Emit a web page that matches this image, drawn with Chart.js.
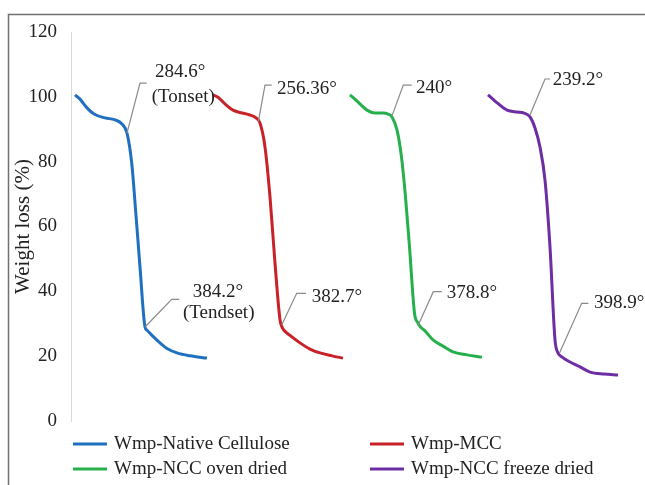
<!DOCTYPE html>
<html>
<head>
<meta charset="utf-8">
<script src="https://cdn.jsdelivr.net/npm/chart.js@4/dist/chart.umd.min.js"></script>
<style>
  html, body { margin: 0; padding: 0; background: #fff; }
  #wrap { position: relative; width: 645px; height: 485px; overflow: hidden; }
  canvas { display: block; }
</style>
</head>
<body>
<div id="wrap"><canvas id="c" width="645" height="485"></canvas></div>
<script>
// ---- Data (x = position along the unlabeled horizontal axis, y = weight %) ----
const seriesNames = ["Wmp-Native Cellulose", "Wmp-MCC", "Wmp-NCC oven dried", "Wmp-NCC freeze dried"];
const seriesColors = ["#1f70c1", "#c82127", "#26b04b", "#6e2ea3"];

const nativeX = [4, 9, 16, 23, 34, 44, 51, 56, 60.7, 64.8, 69, 74, 76, 81, 89, 97, 106, 119, 136];
const nativeY = [100.6, 99.3, 96.6, 94.7, 93.5, 92.9, 91.6, 88.8, 79.6, 64.2, 47.5, 29.0, 28.0, 26.4, 24.1, 22.2, 21.0, 20.1, 19.4];

const mccX = [142, 147, 154, 162, 171, 179, 185, 189, 194, 199, 204, 209, 211, 213, 219, 229, 239, 249, 261, 272];
const mccY = [100.6, 99.9, 97.8, 95.9, 95.0, 94.4, 93.5, 91.9, 84.5, 69.1, 48.7, 31.2, 29.0, 28.0, 26.4, 24.1, 22.2, 21.0, 20.1, 19.4];

const ovenX = [279, 285, 296, 304, 312, 317, 321, 326, 330.5, 334.5, 338.5, 343.5, 347, 349, 354, 362, 372, 382, 396, 411];
const ovenY = [100.6, 99.0, 95.9, 95.0, 95.0, 94.7, 93.8, 89.8, 81.4, 69.1, 53.7, 33.3, 30.2, 29.2, 27.8, 25.0, 23.1, 21.3, 20.4, 19.7];

const freezeX = [417, 424, 436, 446, 453, 459, 464, 469, 474, 479, 484, 487, 489, 493, 499, 509, 519, 533, 547];
const freezeY = [100.6, 98.7, 95.9, 95.3, 95.0, 93.8, 90.4, 84.5, 74.3, 53.7, 25.0, 21.0, 20.2, 19.3, 18.2, 16.7, 15.1, 14.5, 14.2];

const yTicks = [0, 20, 40, 60, 80, 100, 120];
const yTitle = "Weight loss (%)";

// Annotation leader lines: [curve point], [elbow], end-x of short tick; text lines [text, left-x, y]
const annoFrom  = [[56, 88.8], [74, 29.0], [187.3, 92.3], [210.7, 29.6], [320.7, 93.9], [347.3, 29.6], [459, 94.4], [488.5, 21.0]];
const annoElbow = [[69, 104.2], [100.7, 37.5], [194, 103.6], [225.7, 39.4], [332.3, 103.6], [362.3, 39.9], [474, 105.5], [510.7, 36.3]];
const annoEndX  = [75.7, 108.3, 200.7, 235, 340.7, 370.7, 479, 517.3];
const annoTexts = [
  [["284.6°", 84, 107.7], ["(Tonset)", 80.7, 100.0]],
  [["384.2°", 121.7, 39.9], ["(Tendset)", 112, 33.3]],
  [["256.36°", 206, 102.5]],
  [["382.7°", 240.7, 38.3]],
  [["240°", 345, 102.8]],
  [["378.8°", 375.7, 39.4]],
  [["239.2°", 481.7, 105.2]],
  [["398.9°", 523, 36.5]]
];

const FONT = "'Liberation Serif', 'Times New Roman', serif";
const TEXT = "#222222";

function pts(xs, ys) { return xs.map((x, i) => ({ x: x, y: ys[i] })); }
const allX = [nativeX, mccX, ovenX, freezeX];
const allY = [nativeY, mccY, ovenY, freezeY];

const datasets = seriesNames.map((n, i) => ({
  label: n,
  data: pts(allX[i], allY[i]),
  borderColor: seriesColors[i],
  backgroundColor: seriesColors[i],
  borderWidth: 3,
  pointRadius: 0,
  cubicInterpolationMode: 'monotone',
  fill: false
}));

const framePlugin = {
  id: 'frame',
  beforeDraw(chart) {
    const ctx = chart.ctx;
    ctx.save();
    ctx.fillStyle = '#fff';
    ctx.fillRect(0, 0, chart.width, chart.height);
    ctx.strokeStyle = '#707070';
    ctx.lineWidth = 1.5;
    ctx.strokeRect(8.5, 14.5, 800, 700);
    ctx.restore();
  }
};

const annoPlugin = {
  id: 'anno',
  afterDatasetsDraw(chart) {
    const ctx = chart.ctx, xs = chart.scales.x, ys = chart.scales.y;
    ctx.save();
    ctx.strokeStyle = '#8a8a8a';
    ctx.lineWidth = 1.2;
    for (let i = 0; i < annoFrom.length; i++) {
      const a = annoFrom[i], e = annoElbow[i];
      ctx.beginPath();
      ctx.moveTo(xs.getPixelForValue(a[0]), ys.getPixelForValue(a[1]));
      ctx.lineTo(xs.getPixelForValue(e[0]), ys.getPixelForValue(e[1]));
      ctx.lineTo(xs.getPixelForValue(annoEndX[i]), ys.getPixelForValue(e[1]));
      ctx.stroke();
    }
    ctx.fillStyle = TEXT;
    ctx.font = "19px " + FONT;
    ctx.textAlign = 'left';
    ctx.textBaseline = 'middle';
    annoTexts.forEach(lines => lines.forEach(t => {
      ctx.fillText(t[0], xs.getPixelForValue(t[1]), ys.getPixelForValue(t[2]));
    }));
    ctx.restore();
  }
};

const legendPlugin = {
  id: 'customLegend',
  afterDraw(chart) {
    const ctx = chart.ctx;
    const cols = [73, 370];
    const rows = [444, 469];
    ctx.save();
    ctx.font = "19px " + FONT;
    ctx.textBaseline = 'middle';
    ctx.textAlign = 'left';
    seriesNames.forEach((n, i) => {
      const cx = cols[i % 2], cy = rows[Math.floor(i / 2)];
      ctx.strokeStyle = seriesColors[i];
      ctx.lineWidth = 3;
      ctx.beginPath();
      ctx.moveTo(cx, cy);
      ctx.lineTo(cx + 34, cy);
      ctx.stroke();
      ctx.fillStyle = TEXT;
      ctx.fillText(n, cx + 41, cy);
    });
    ctx.restore();
  }
};

new Chart(document.getElementById('c'), {
  type: 'line',
  data: { datasets },
  plugins: [framePlugin, annoPlugin, legendPlugin],
  options: {
    responsive: false,
    animation: false,
    devicePixelRatio: 1,
    layout: { padding: { top: 32, bottom: 64, left: 0, right: 5 } },
    plugins: { legend: { display: false }, tooltip: { enabled: false } },
    scales: {
      x: {
        type: 'linear', min: 0, max: 569, display: false
      },
      y: {
        min: 0, max: 120,
        afterFit(s) { s.width = 71; },
        afterBuildTicks(s) { s.ticks = yTicks.map(v => ({ value: v })); },
        grid: { display: false, drawTicks: false },
        border: { display: true, color: '#d9d9d9', width: 1 },
        ticks: { padding: 14, color: TEXT, font: { family: FONT, size: 19 } },
        title: {
          display: true, text: yTitle, color: TEXT,
          font: { family: FONT, size: 21 },
          padding: { top: 11, bottom: 0 }
        }
      }
    }
  }
});
</script>
</body>
</html>
